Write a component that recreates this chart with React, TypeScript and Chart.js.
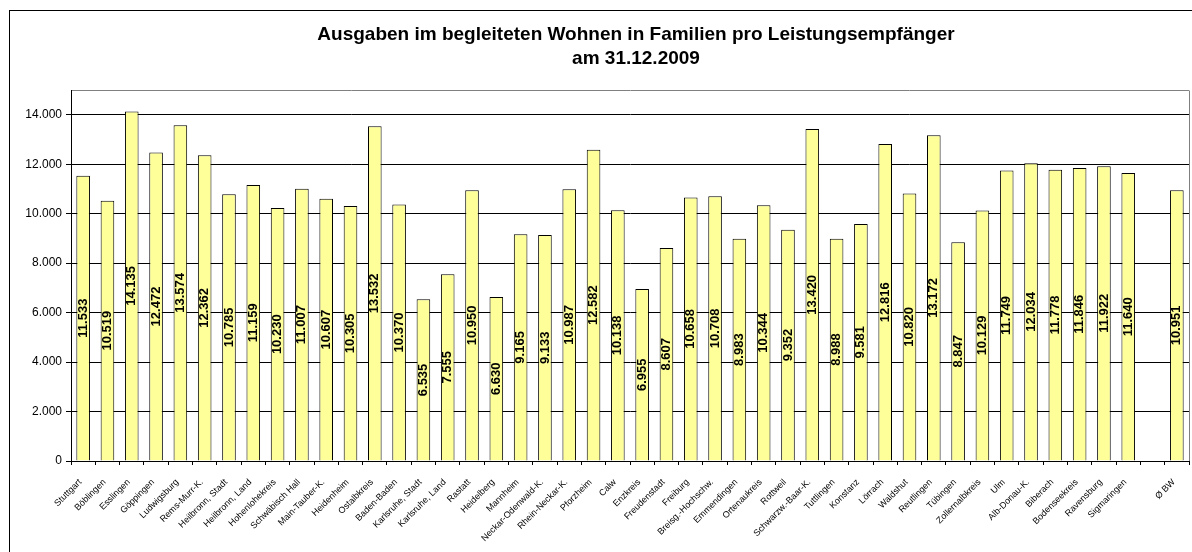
import React, { useEffect, useRef } from "react";
import { Chart, registerables } from "chart.js";

Chart.register(...registerables);

const categories: string[] = [
  "Stuttgart", "Böblingen", "Esslingen", "Göppingen", "Ludwigsburg", "Rems-Murr-K.",
  "Heilbronn, Stadt", "Heilbronn, Land", "Hohenlohekreis", "Schwäbisch Hall", "Main-Tauber-K.",
  "Heidenheim", "Ostalbkreis", "Baden-Baden", "Karlsruhe, Stadt", "Karlsruhe, Land", "Rastatt",
  "Heidelberg", "Mannheim", "Neckar-Odenwald-K.", "Rhein-Neckar-K.", "Pforzheim", "Calw",
  "Enzkreis", "Freudenstadt", "Freiburg", "Breisg.-Hochschw.", "Emmendingen", "Ortenaukreis",
  "Rottweil", "Schwarzw.-Baar-K.", "Tuttlingen", "Konstanz", "Lörrach", "Waldshut",
  "Reutlingen", "Tübingen", "Zollernalbkreis", "Ulm", "Alb-Donau-K.", "Biberach",
  "Bodenseekreis", "Ravensburg", "Sigmaringen", "", "Ø BW",
];

const values: (number | null)[] = [
  11533, 10519, 14135, 12472, 13574, 12362,
  10785, 11159, 10230, 11007, 10607,
  10305, 13532, 10370, 6535, 7555, 10950,
  6630, 9165, 9133, 10987, 12582, 10138,
  6955, 8607, 10658, 10708, 8983, 10344,
  9352, 13420, 8988, 9581, 12816, 10820,
  13172, 8847, 10129, 11749, 12034, 11778,
  11846, 11922, 11640, null, 10951,
];

const titleLines: string[] = [
  "Ausgaben im begleiteten Wohnen in Familien pro Leistungsempfänger",
  "am 31.12.2009",
];

const yTickValues: number[] = [0, 2000, 4000, 6000, 8000, 10000, 12000, 14000, 15000];
const yMax = 15000;

const FONT = "'Liberation Sans', Arial, sans-serif";

function fmt(v: number): string {
  if (v < 1000) return String(v);
  const th = Math.floor(v / 1000);
  const rest = String(v % 1000).padStart(3, "0");
  return th + "." + rest;
}

const titlePlugin = {
  id: "centeredTitle",
  afterDraw(chart: any) {
    const ctx = chart.ctx;
    ctx.save();
    ctx.font = `bold 19px ${FONT}`;
    ctx.fillStyle = "#000";
    ctx.textAlign = "center";
    ctx.textBaseline = "alphabetic";
    const cx = chart.width / 2;
    titleLines.forEach((line, i) => {
      ctx.fillText(line, cx, 29 + i * 24);
    });
    ctx.restore();
  },
};

const barLabelPlugin = {
  id: "barLabels",
  afterDatasetsDraw(chart: any) {
    const ctx = chart.ctx;
    const meta = chart.getDatasetMeta(0);
    ctx.save();
    ctx.font = `bold 13px ${FONT}`;
    ctx.fillStyle = "#000";
    ctx.textAlign = "center";
    ctx.textBaseline = "middle";
    meta.data.forEach((bar: any, i: number) => {
      const v = values[i];
      if (v == null) return;
      const { x, y, base } = bar.getProps(["x", "y", "base"], true);
      const mid = (y + base) / 2;
      ctx.save();
      ctx.translate(x, mid);
      ctx.rotate(-Math.PI / 2);
      ctx.fillText(fmt(v), 0, 0);
      ctx.restore();
    });
    ctx.restore();
  },
};

const borderPlugin = {
  id: "plotBorder",
  afterDraw(chart: any) {
    const { ctx, chartArea } = chart;
    ctx.save();
    ctx.strokeStyle = "#808080";
    ctx.lineWidth = 1;
    const xr = Math.round(chartArea.right) + 0.5;
    ctx.beginPath();
    ctx.moveTo(xr, Math.round(chartArea.top) + 0.5);
    ctx.lineTo(xr, Math.round(chartArea.bottom));
    ctx.stroke();
    ctx.restore();
  },
};

export default function App() {
  const ref = useRef<HTMLCanvasElement | null>(null);

  useEffect(() => {
    if (!ref.current) return;
    const chart = new Chart(ref.current, {
      type: "bar",
      data: {
        labels: categories,
        datasets: [
          {
            data: values,
            backgroundColor: "#FFFF99",
            borderColor: "#000000",
            borderWidth: 1,
            barPercentage: 0.56,
            categoryPercentage: 1,
          },
        ],
      },
      options: {
        responsive: false,
        animation: false,
        layout: { padding: { left: 0, right: 73, top: 79, bottom: 0 } },
        plugins: {
          legend: { display: false },
          tooltip: { enabled: false },
          title: { display: false },
        },
        scales: {
          x: {
            grid: {
              offset: true,
              drawOnChartArea: false,
              drawTicks: true,
              tickLength: 4,
              color: "#000",
            },
            border: { color: "#000", width: 1 },
            ticks: {
              autoSkip: false,
              maxRotation: 45,
              minRotation: 45,
              padding: 12,
              labelOffset: -3,
              color: "#000",
              font: { family: FONT, size: 9 },
            },
            afterFit(scale: any) {
              scale.height = 110;
            },
          },
          y: {
            min: 0,
            max: yMax,
            afterBuildTicks(scale: any) {
              scale.ticks = yTickValues.map((v) => ({ value: v }));
            },
            grid: {
              color: (c: any) => (c.tick && c.tick.value === yMax ? "#808080" : "#000"),
              tickColor: (c: any) => (c.tick && c.tick.value === yMax ? "rgba(0,0,0,0)" : "#000"),
              tickLength: 5,
              lineWidth: 1,
            },
            border: { color: "#000", width: 1 },
            ticks: {
              padding: 4,
              color: "#000",
              font: { family: FONT, size: 12 },
              callback: (v: any) => (v === yMax ? "" : fmt(Number(v))),
            },
            afterFit(scale: any) {
              scale.width = 61;
            },
          },
        },
      },
      plugins: [barLabelPlugin, borderPlugin, titlePlugin],
    });
    return () => chart.destroy();
  }, []);

  return (
    <div
      style={{
        position: "fixed",
        left: 0,
        top: 0,
        width: 1192,
        height: 552,
        overflow: "hidden",
        background: "#fff",
      }}
    >
      <div
        style={{
          position: "absolute",
          left: 9,
          top: 10,
          width: 1252,
          height: 560,
          border: "1px solid #000",
          background: "#fff",
        }}
      >
        <canvas ref={ref} width={1252} height={560} style={{ display: "block" }} />
      </div>
    </div>
  );
}
